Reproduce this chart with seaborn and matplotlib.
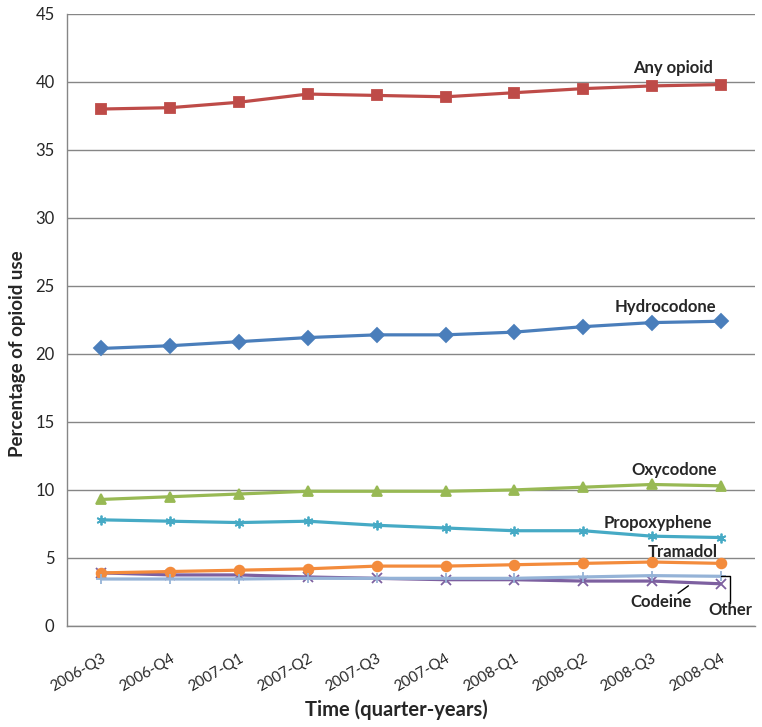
import numpy as np
import pandas as pd
import seaborn as sns
import matplotlib.pyplot as plt

quarters = ['2006-Q3', '2006-Q4', '2007-Q1', '2007-Q2', '2007-Q3',
            '2007-Q4', '2008-Q1', '2008-Q2', '2008-Q3', '2008-Q4']

hydrocodone = [20.4, 20.6, 20.9, 21.2, 21.4, 21.4, 21.6, 22.0, 22.3, 22.4]
any_opioid = [38.0, 38.1, 38.5, 39.1, 39.0, 38.9, 39.2, 39.5, 39.7, 39.8]
oxycodone = [9.3, 9.5, 9.7, 9.9, 9.9, 9.9, 10.0, 10.2, 10.4, 10.3]
codeine = [3.9, 3.75, 3.75, 3.6, 3.5, 3.4, 3.4, 3.3, 3.3, 3.1]
propoxyphene = [7.8, 7.7, 7.6, 7.7, 7.4, 7.2, 7.0, 7.0, 6.6, 6.5]
tramadol = [3.9, 4.0, 4.1, 4.2, 4.4, 4.4, 4.5, 4.6, 4.7, 4.6]
other = [3.45, 3.45, 3.45, 3.5, 3.5, 3.5, 3.5, 3.6, 3.7, 3.65]

series = {
    'Hydrocodone': hydrocodone,
    'Any opioid': any_opioid,
    'Oxycodone': oxycodone,
    'Codeine': codeine,
    'Propoxyphene': propoxyphene,
    'Tramadol': tramadol,
    'Other': other,
}

colors = {
    'Hydrocodone': '#4A7EBB',
    'Any opioid': '#BE4B48',
    'Oxycodone': '#98B954',
    'Codeine': '#7D60A0',
    'Propoxyphene': '#46AAC5',
    'Tramadol': '#F38B3C',
    'Other': '#95B3D7',
}
markers = {
    'Hydrocodone': 'D',
    'Any opioid': 's',
    'Oxycodone': '^',
    'Codeine': 'x',
    'Propoxyphene': (6, 2, 0),
    'Tramadol': 'o',
    'Other': '+',
}

sns.set_style('white')
plt.rcParams['font.family'] = ['Lato', 'DejaVu Sans']

fig = plt.figure(figsize=(7.62, 7.27), dpi=100)
ax = fig.add_axes([0.088, 0.139, 0.903, 0.842])

for name, vals in series.items():
    df = pd.DataFrame({'pos': np.arange(len(quarters)), 'value': vals})
    sns.lineplot(data=df, x='pos', y='value', color=colors[name],
                 marker=markers[name], markersize=7, markeredgewidth=1.3,
                 markeredgecolor=colors[name], linewidth=2.3, ax=ax)

ax.set_xlim(-0.5, len(quarters) - 0.5)
ax.set_ylim(0, 45)
ax.set_yticks(np.arange(0, 46, 5))
ax.grid(axis='y', color='#868686', linewidth=1)
ax.set_axisbelow(True)

ax.set_xticks(range(len(quarters)))
ax.set_xticklabels(quarters, rotation=30, ha='right', va='top',
                   rotation_mode='anchor', fontsize=10.8)
ax.set_xticks(np.arange(-0.5, len(quarters), 1), minor=True)
ax.tick_params(axis='x', which='major', length=0, pad=18)
ax.tick_params(axis='x', which='minor', length=5, color='#868686', width=1, direction='out')
ax.tick_params(axis='y', length=5, color='#868686', width=1, direction='out', labelsize=12, pad=4)

for side in ['top', 'right']:
    ax.spines[side].set_visible(False)
for side in ['left', 'bottom']:
    ax.spines[side].set_color('#868686')
    ax.spines[side].set_linewidth(1)

ax.set_xlabel('Time (quarter-years)', fontsize=14.5, fontweight='bold')
ax.set_ylabel('Percentage of opioid use', fontsize=13.5, fontweight='bold')
ax.xaxis.set_label_coords(0.478, -0.12)
ax.yaxis.set_label_coords(-0.06, 0.444)

labels = [
    ('Any opioid', 8.3, 41.0),
    ('Hydrocodone', 8.2, 23.45),
    ('Oxycodone', 8.32, 11.47),
    ('Propoxyphene', 8.08, 7.57),
    ('Tramadol', 8.45, 5.44),
    ('Codeine', 8.13, 1.76),
    ('Other', 9.14, 1.18),
]
for txt, x, y in labels:
    ax.text(x, y, txt, ha='center', va='center', fontsize=12, fontweight='bold')

# leader lines
ax.plot([8.38, 8.53], [2.4, 2.95], color='black', linewidth=1)
ax.plot([9.0, 9.14, 9.14], [other[-1], other[-1], 1.7], color='black', linewidth=1)

fig.savefig('out.png', dpi=100)
